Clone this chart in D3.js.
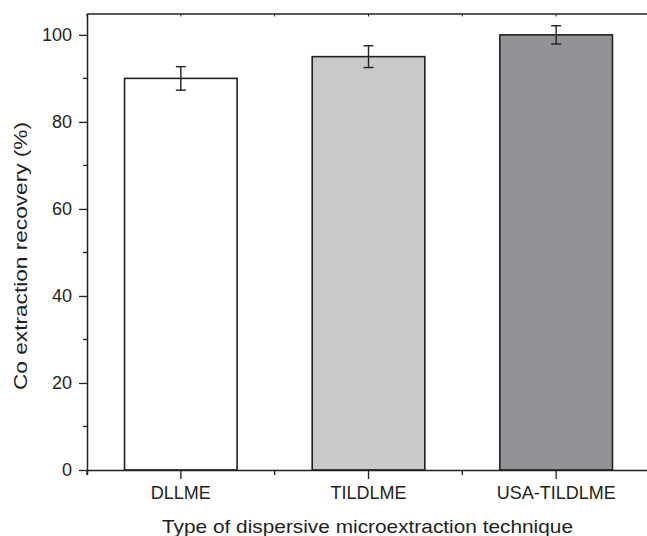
<!DOCTYPE html>
<html>
<head>
<meta charset="utf-8">
<script src="https://cdn.jsdelivr.net/npm/d3@7"></script>
<style>
  body { margin: 0; background: #fff; }
  svg { display: block; overflow: hidden; }
  text { font-family: "Liberation Sans", Arial, sans-serif; fill: #231f20; }
</style>
</head>
<body>
<div id="chart"></div>
<script>
// Datos
const categories = ["DLLME", "TILDLME", "USA-TILDLME"];
const recovery = [90, 95, 100];
const errors = [2.7, 2.5, 2.1];
const barColors = ["#ffffff", "#c8c9cb", "#929397"];
const yTicks = [0, 20, 40, 60, 80, 100];
const yMinorTicks = [10, 30, 50, 70, 90];

const width = 647;
const height = 536;
const margin = { top: 14, right: -3, bottom: 66, left: 87 };
const ink = "#231f20";

const svg = d3.select("#chart")
    .append("svg")
    .attr("width", width)
    .attr("height", height);

const x = d3.scaleBand()
    .domain(categories)
    .range([margin.left, width - margin.right])
    .paddingInner(0.4)
    .paddingOuter(0.2);

const y = d3.scaleLinear()
    .domain([0, 104.8])
    .range([height - margin.bottom, margin.top]);

const data = categories.map((c, i) => ({ cat: c, val: recovery[i], err: errors[i], color: barColors[i] }));

// Barras
svg.selectAll(".bar")
    .data(data)
    .enter()
    .append("rect")
    .attr("class", "bar")
    .attr("x", d => x(d.cat))
    .attr("y", d => y(d.val))
    .attr("width", x.bandwidth())
    .attr("height", d => y(0) - y(d.val))
    .attr("fill", d => d.color)
    .attr("stroke", ink)
    .attr("stroke-width", 1.6);

// Barras de error
const eb = svg.selectAll(".err")
    .data(data)
    .enter()
    .append("g")
    .attr("class", "err")
    .attr("stroke", ink)
    .attr("stroke-width", 1.4);

eb.append("line")
    .attr("x1", d => x(d.cat) + x.bandwidth() / 2)
    .attr("x2", d => x(d.cat) + x.bandwidth() / 2)
    .attr("y1", d => y(d.val + d.err))
    .attr("y2", d => y(d.val - d.err));

[1, -1].forEach(s => {
    eb.append("line")
        .attr("x1", d => x(d.cat) + x.bandwidth() / 2 - 5)
        .attr("x2", d => x(d.cat) + x.bandwidth() / 2 + 5)
        .attr("y1", d => y(d.val + s * d.err))
        .attr("y2", d => y(d.val + s * d.err));
});

// Posiciones de los límites entre categorías
const step = x.step();
const bounds = d3.range(categories.length + 1).map(i => margin.left + i * step);

// Eje inferior
const xAxis = svg.append("g")
    .attr("transform", `translate(0,${y(0)})`)
    .call(d3.axisBottom(x).tickSize(9).tickSizeOuter(0))
    .call(g => g.select(".domain").attr("d", `M${margin.left},0.5H${width + 10}`));
xAxis.selectAll(".tick line").attr("stroke", ink).attr("stroke-width", 1.3);
xAxis.select(".domain").attr("stroke", ink).attr("stroke-width", 1.5);
xAxis.selectAll(".tick text")
    .attr("y", 29)
    .attr("dy", 0)
    .style("font-size", "18px")
    .style("fill", ink);
xAxis.selectAll(".minor")
    .data(bounds)
    .enter()
    .append("line")
    .attr("x1", d => d).attr("x2", d => d)
    .attr("y1", 0).attr("y2", 5)
    .attr("stroke", ink).attr("stroke-width", 1.3);

// Eje superior (solo línea y marcas pequeñas)
const topG = svg.append("g").attr("transform", `translate(0,${margin.top})`);
topG.append("line")
    .attr("x1", margin.left).attr("x2", width + 10)
    .attr("y1", 0).attr("y2", 0)
    .attr("stroke", ink).attr("stroke-width", 1.5);
topG.selectAll(".t")
    .data(bounds.concat(categories.map(c => x(c) + x.bandwidth() / 2)))
    .enter()
    .append("line")
    .attr("x1", d => d).attr("x2", d => d)
    .attr("y1", 0).attr("y2", 2.5)
    .attr("stroke", ink).attr("stroke-width", 1);

// Eje izquierdo
const yAxis = svg.append("g")
    .attr("transform", `translate(${margin.left},0)`)
    .call(d3.axisLeft(y).tickValues(yTicks).tickSize(8).tickSizeOuter(0).tickPadding(7))
    .call(g => g.select(".domain").attr("d", `M0.5,${y(0) + 5}V${margin.top}`));
yAxis.select(".domain").attr("stroke", ink).attr("stroke-width", 1.5);
yAxis.selectAll(".tick line").attr("stroke", ink).attr("stroke-width", 1.3);
yAxis.selectAll(".tick text")
    .style("font-size", "18px")
    .style("fill", ink);
yAxis.selectAll(".minor")
    .data(yMinorTicks)
    .enter()
    .append("line")
    .attr("x1", -4).attr("x2", 0)
    .attr("y1", d => y(d)).attr("y2", d => y(d))
    .attr("stroke", ink).attr("stroke-width", 1.3);

// Títulos de los ejes
svg.append("text")
    .attr("x", 367.5)
    .attr("y", 533)
    .attr("text-anchor", "middle")
    .attr("textLength", 411)
    .attr("lengthAdjust", "spacingAndGlyphs")
    .style("font-size", "18.5px")
    .text("Type of dispersive microextraction technique");

svg.append("text")
    .attr("transform", "translate(27,256) rotate(-90)")
    .attr("text-anchor", "middle")
    .attr("textLength", 268)
    .attr("lengthAdjust", "spacingAndGlyphs")
    .style("font-size", "18.5px")
    .text("Co extraction recovery (%)");
</script>
</body>
</html>
